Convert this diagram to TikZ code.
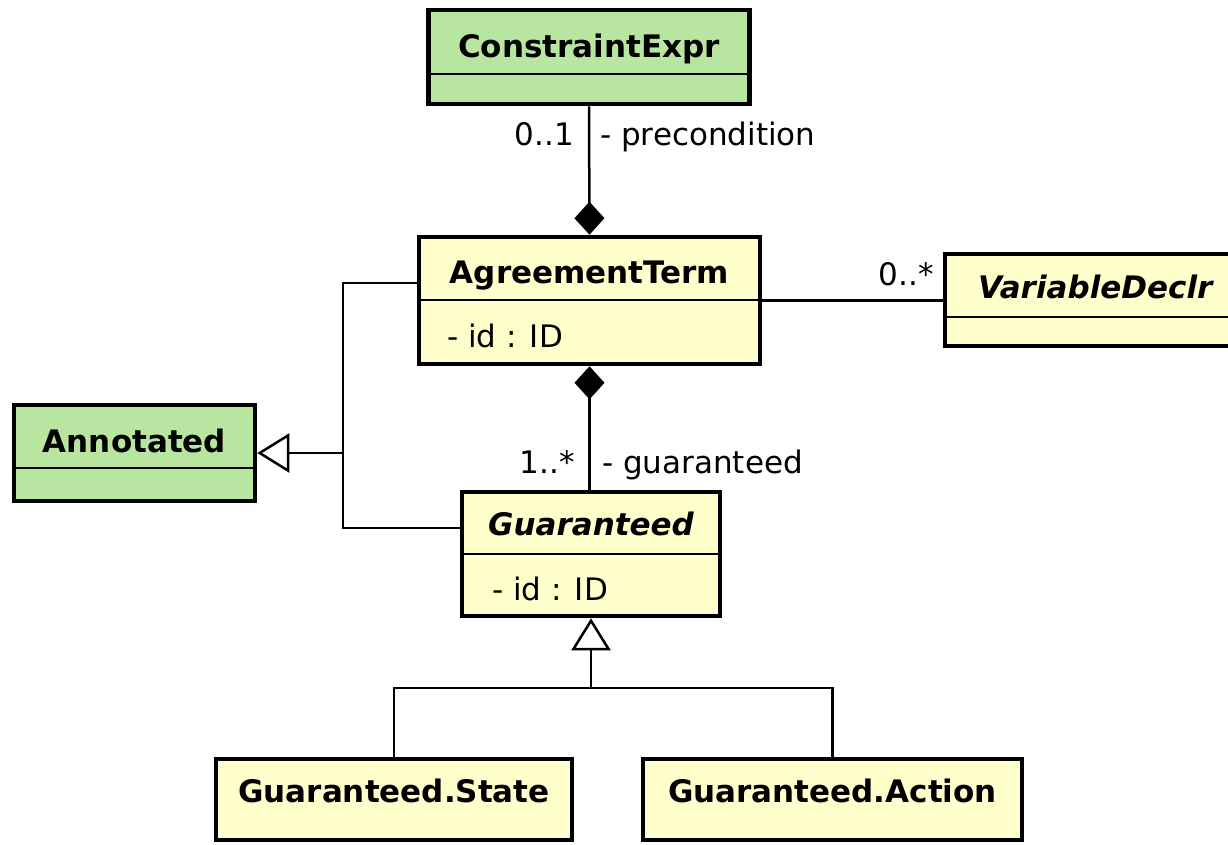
\documentclass[tikz,border=0pt]{standalone}
\usepackage{fontspec}
\setmainfont{DejaVu Sans}
\usetikzlibrary{arrows.meta}
\definecolor{umlgreen}{RGB}{184,230,160}
\definecolor{umlyellow}{RGB}{255,255,204}
\newcommand\umlfont{\fontsize{31}{36}\selectfont}
\begin{document}
\begin{tikzpicture}[x=1pt,y=-1pt,
  classbox/.style={draw=black, line width=4.6pt, inner sep=0pt},
  greenbox/.style={classbox, fill=umlgreen},
  yellowbox/.style={classbox, fill=umlyellow},
  divider/.style={draw=black, line width=2.2pt},
  title/.style={inner sep=0pt, anchor=base, font=\umlfont\bfseries},
  abstitle/.style={title, font=\umlfont\bfseries\itshape},
  attr/.style={inner sep=0pt, anchor=base west, font=\umlfont},
  lbl/.style={inner sep=0pt, font=\umlfont},
  conn/.style={draw=black, line width=2.5pt},
  composition/.style={conn, {Diamond[length=33pt,width=30pt]}-},
  generalization/.style={conn, -{Triangle[open,length=32pt,width=39pt]}}
]
\useasboundingbox (0,0) rectangle (1228,844);
\clip (0,0) rectangle (1228,844);
\fill[white] (0,0) rectangle (1228,844);

% class boxes
\node[greenbox, minimum width=321pt, minimum height=94pt] (ce) at (589,57) {};
\node[yellowbox, minimum width=341pt, minimum height=127pt] (at) at (589.5,300.5) {};
\node[yellowbox, minimum width=295pt, minimum height=92pt] (vd) at (1092.5,300) {};
\node[greenbox, minimum width=241pt, minimum height=96pt] (an) at (134.5,453) {};
\node[yellowbox, minimum width=258pt, minimum height=124pt] (g) at (591,554) {};
\node[yellowbox, minimum width=356pt, minimum height=81pt] (gs) at (394,799.5) {};
\node[yellowbox, minimum width=379pt, minimum height=81pt] (ga) at (832.5,799.5) {};

% compartment dividers
\draw[divider] (ce.west |- 0,74) -- (ce.east |- 0,74);
\draw[divider] (at.west |- 0,300) -- (at.east |- 0,300);
\draw[divider] (vd.west |- 0,317) -- (vd.east |- 0,317);
\draw[divider] (an.west |- 0,468) -- (an.east |- 0,468);
\draw[divider] (g.west |- 0,554) -- (g.east |- 0,554);

% class names and attributes
\node[title] (ce-t) at (ce.center |- 0,57) {ConstraintExpr};
\node[title] (at-t) at (at.center |- 0,283) {AgreementTerm};
\node[attr] (at-a) at (447,347) {- id : ID};
\node[abstitle, anchor=base west] (vd-t) at (978,298) {VariableDeclr};
\node[title] (an-t) at (an.center |- 0,452) {Annotated};
\node[abstitle] (g-t) at (g.center |- 0,535) {Guaranteed};
\node[attr] (g-a) at (492,600) {- id : ID};
\node[title] (gs-t) at (gs.center |- 0,802) {Guaranteed.State};
\node[title] (ga-t) at (ga.center |- 0,802) {Guaranteed.Action};

% associations
\draw[composition] (at.north) -- (ce.south);
\draw[composition] (at.south) -- (at.south |- g.north);
\draw[conn] (at.east) -- (at.east -| vd.west);

\node[lbl, anchor=base east] (m-pre) at (574,145) {0..1};
\node[lbl, anchor=base west] (r-pre) at (600,145) {- precondition};
\node[lbl, anchor=base east] (m-gua) at (575,473) {1..*};
\node[lbl, anchor=base west] (r-gua) at (602,473) {- guaranteed};
\node[lbl, anchor=base east] (m-var) at (934,285) {0..*};

% generalization towards Annotated
\coordinate (hubT) at (343,283);
\coordinate (hubM) at (343,453);
\coordinate (hubB) at (343,528);
\draw[conn] (at.west |- hubT) -- (hubT) -- (hubB) -- (g.west |- hubB);
\draw[generalization] (hubM) -- (an.east |- hubM);

% generalization of Guaranteed
\coordinate (treeJ) at (g.south |- 0,688);
\draw[generalization] (treeJ) -- (g.south);
\draw[conn] (gs.north) |- (treeJ) -| (ga.north);
\end{tikzpicture}
\end{document}
